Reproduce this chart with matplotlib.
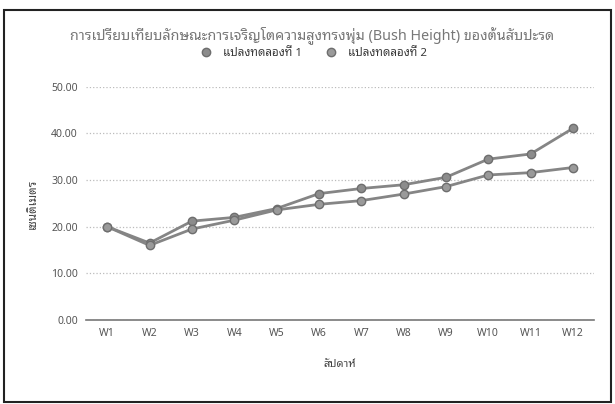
import matplotlib
matplotlib.use('Agg')
from matplotlib import pyplot as plt
from matplotlib.patches import Rectangle

# Latin from Noto Sans, Thai script from the looped Thai face
plt.rcParams['font.family'] = ['Noto Sans', 'Noto Sans Thai Looped', 'DejaVu Sans']

weeks = ['W1', 'W2', 'W3', 'W4', 'W5', 'W6', 'W7', 'W8', 'W9', 'W10', 'W11', 'W12']
plot1 = [20.0, 16.5, 21.2, 22.0, 23.9, 27.1, 28.2, 29.0, 30.6, 34.5, 35.6, 41.1]
plot2 = [20.0, 16.0, 19.5, 21.4, 23.6, 24.8, 25.6, 27.0, 28.6, 31.1, 31.6, 32.7]
yticks = [0, 10, 20, 30, 40, 50]

title = 'การเปรียบเทียบลักษณะการเจริญโตความสูงทรงพุ่ม (Bush Height) ของต้นสับปะรด'
names = ['แปลงทดลองที่ 1', 'แปลงทดลองที่ 2']

fig = plt.figure(figsize=(6.15, 4.04), dpi=100)
ax = fig.add_axes([0.140, 0.208, 0.826, 0.577])

x = list(range(len(weeks)))
ax.plot(x, plot1, color='#858585', lw=2, marker='o', ms=6,
        mfc='#8c8c8c', mec='#6e6e6e', label=names[0])
ax.plot(x, plot2, color='#858585', lw=2, marker='o', ms=6,
        mfc='#9a9a9a', mec='#6e6e6e', label=names[1])

ax.set_xlim(-0.5, len(weeks) - 0.5)
ax.set_ylim(0, 50)
ax.set_yticks(yticks)
ax.set_yticklabels(['%.2f' % v for v in yticks])
ax.set_xticks(x)
ax.set_xticklabels(weeks)
ax.tick_params(length=0, labelsize=7.5, labelcolor='#555555', pad=6)

ax.grid(axis='y', color='#bbbbbb', ls=':', lw=0.9)
ax.set_axisbelow(True)
for side in ['top', 'right', 'left']:
    ax.spines[side].set_visible(False)
ax.spines['bottom'].set_color('#777777')
ax.spines['bottom'].set_linewidth(1.2)

ax.set_xlabel('สัปดาห์', fontsize=8, color='#444444', labelpad=14)
ax.set_ylabel('เซนติเมตร', fontsize=8.5, color='#444444', labelpad=9)

fig.text(0.508, 0.913, title, ha='center', va='center', fontsize=10.3, color='#777777')
leg = fig.legend(loc='center', bbox_to_anchor=(0.508, 0.868), ncol=2, frameon=False,
                 fontsize=8.3, handlelength=1.4, columnspacing=1.8, handletextpad=0.8,
                 labelcolor='#3a3a3a')
for h in leg.legend_handles:
    h.set_linestyle('')

# outer frame around the chart
fig.patches.append(Rectangle((0.006, 0.005), 0.988, 0.97, transform=fig.transFigure,
                             fill=False, ec='#222222', lw=1.5))

fig.savefig('out.png', dpi=100, facecolor='white')
